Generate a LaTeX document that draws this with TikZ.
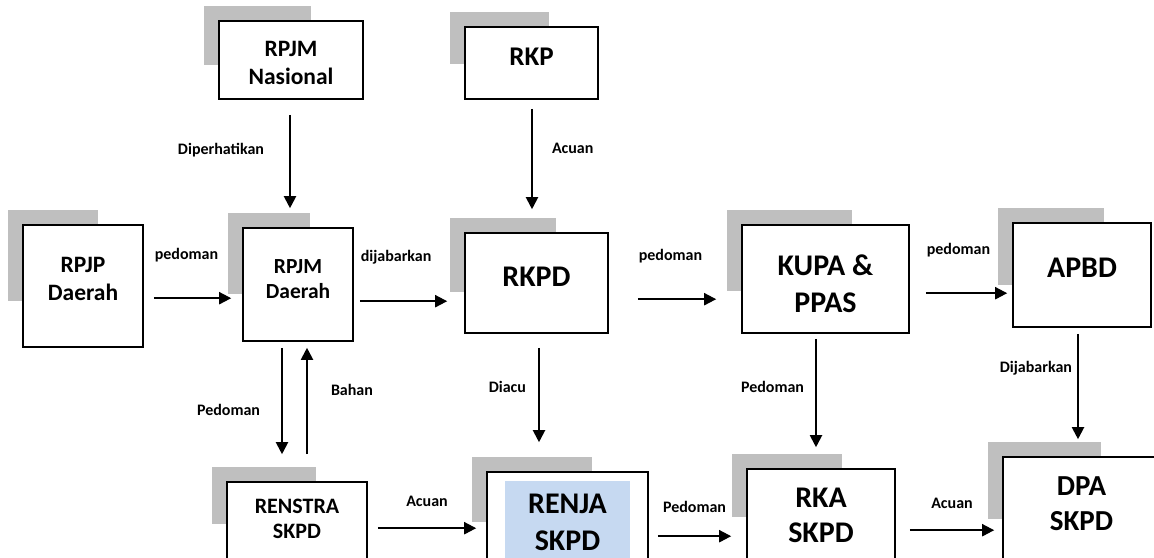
\documentclass[tikz,border=0pt]{standalone}
\usepackage{fontspec}
\setmainfont{Carlito}
\usetikzlibrary{positioning, calc, arrows.meta, backgrounds}

\definecolor{shadowgray}{RGB}{191,191,191}
\definecolor{renjablue}{RGB}{198,217,241}
\newcommand{\boxfont}[2]{\fontsize{#1}{#2}\selectfont\bfseries}

\tikzset{
    box/.style={draw, line width=1.6pt, fill=white, align=center, inner sep=0pt, anchor=base},
    arr/.style={line width=2pt, -{Triangle[length=12pt, width=12pt]}},
    lbl/.style={font=\boxfont{16}{19}, inner sep=0pt, text depth=0pt}
}

\begin{document}
\begin{tikzpicture}[x=1pt, y=-1pt]
    \useasboundingbox (0,0) rectangle (1154,557);
    \clip (0,0) rectangle (1154,557);

    \node[box, minimum width=144pt, text height=63pt, text depth=15pt, font=\boxfont{23.5}{28}] (nasional) at (291,84) {RPJM\\Nasional};
    \node[box, minimum width=133pt, text height=38pt, text depth=34pt, font=\boxfont{27}{32}] (rkp) at (531.5,65) {RKP};
    \node[box, minimum width=120pt, text height=75pt, text depth=47pt, font=\boxfont{23.5}{28}] (rpjp) at (83,300) {RPJP\\Daerah};
    \node[box, minimum width=110pt, text height=70pt, text depth=43pt, font=\boxfont{21.5}{25}] (rpjmd) at (298,298) {RPJM\\Daerah};
    \node[box, minimum width=143pt, text height=53pt, text depth=47pt, font=\boxfont{30}{36}] (rkpd) at (536.5,286) {RKPD};
    \node[box, minimum width=167pt, text height=87pt, text depth=21pt, font=\boxfont{30}{37}] (kupa) at (825.5,312) {KUPA \&\\PPAS};
    \node[box, minimum width=138pt, text height=54pt, text depth=50pt, font=\boxfont{30}{36}] (apbd) at (1082,277) {APBD};
    \node[box, minimum width=140pt, text height=56pt, text depth=60pt, font=\boxfont{22}{25}] (renstra) at (297,538) {RENSTRA\\SKPD};
    \node[box, minimum width=161pt, text height=78pt, text depth=50pt, font=\boxfont{30}{37},
        path picture={\fill[renjablue] ([shift={(18pt,-9pt)}]path picture bounding box.north west) rectangle ([shift={(143pt,-200pt)}]path picture bounding box.north west);}] (renja) at (567.5,550) {RENJA\\SKPD};
    \node[box, minimum width=148pt, text height=73pt, text depth=50pt, font=\boxfont{30}{35}] (rka) at (821,542) {RKA\\SKPD};
    \node[box, minimum width=157pt, text height=73pt, text depth=50pt, font=\boxfont{29}{35}] (dpa) at (1081.5,530) {DPA\\SKPD};

    \begin{scope}[on background layer]
        \foreach \n/\w/\h in {nasional/107/59, rkp/99/52, rpjp/90/91, rpjmd/82/81, rkpd/106/74, kupa/125/81, apbd/106/77, renstra/104/57, renja/120/65, rka/110/63, dpa/113/77}
            \fill[shadowgray] ($(\n.north west)+(-14,-14)$) rectangle ++(\w,\h);
    \end{scope}

    \draw[arr] ($(nasional.south)+(-1,15)$) -- node[lbl, pos=.37, left=25pt] {Diperhatikan} ($(nasional.south |- rpjmd.north)+(-1,-19)$);
    \draw[arr] ($(rkp.south)+(0.5,9)$) -- node[lbl, pos=.39, right=19pt] {Acuan} ($(rkp.south |- rkpd.north)+(0.5,-23)$);
    \draw[arr] ($(rpjp.north east)+(10,74)$) -- node[lbl, pos=0, above right=38pt and 0pt] {pedoman} ($(rpjp.north east -| rpjmd.west)+(-11,74)$);
    \draw[arr] ($(rpjmd.north east)+(6,74)$) -- node[lbl, pos=0, above right=39pt and 0pt] {dijabarkan} ($(rpjmd.north east -| rkpd.west)+(-17,74)$);
    \draw[arr] ($(rkpd.north east)+(29,67)$) -- node[lbl, pos=0, above right=38pt and 0pt] {pedoman} ($(rkpd.north east -| kupa.west)+(-25,67)$);
    \draw[arr] ($(kupa.north east)+(16,69)$) -- node[lbl, pos=0, above right=38pt and 0pt] {pedoman} ($(kupa.north east -| apbd.west)+(-5,69)$);
    \draw[arr] ($(rpjmd.south)+(-16,6)$) -- node[lbl, pos=.58, left=21pt] {Pedoman} ($(rpjmd.south |- renstra.north)+(-16,-27)$);
    \draw[arr] ($(rpjmd.south |- renstra.north)+(9,-27)$) -- node[lbl, pos=.6, right=23pt] {Bahan} ($(rpjmd.south)+(9,6)$);
    \draw[arr] ($(rkpd.south)+(2.5,14)$) -- node[lbl, pos=.41, left=12pt] {Diacu} ($(rkpd.south |- renja.north)+(2.5,-29)$);
    \draw[arr] ($(kupa.south)+(-9.5,5)$) -- node[lbl, pos=.44, left=11pt] {Pedoman} ($(kupa.south |- rka.north)+(-9.5,-21)$);
    \draw[arr] ($(apbd.south)+(-4,6)$) -- node[lbl, pos=.31, left=5pt] {Dijabarkan} ($(apbd.south |- dpa.north)+(-4,-17)$);
    \draw[arr] ($(renstra.north east)+(10,47)$) -- node[lbl, above=21pt] {Acuan} ($(renstra.north east -| renja.west)+(-10,47)$);
    \draw[arr] ($(renja.north east)+(9,65)$) -- node[lbl, above=23pt] {Pedoman} ($(renja.north east -| rka.west)+(-15,65)$);
    \draw[arr] ($(rka.north east)+(14,62)$) -- node[lbl, above=21pt] {Acuan} ($(rka.north east -| dpa.west)+(-8,62)$);
\end{tikzpicture}
\end{document}
